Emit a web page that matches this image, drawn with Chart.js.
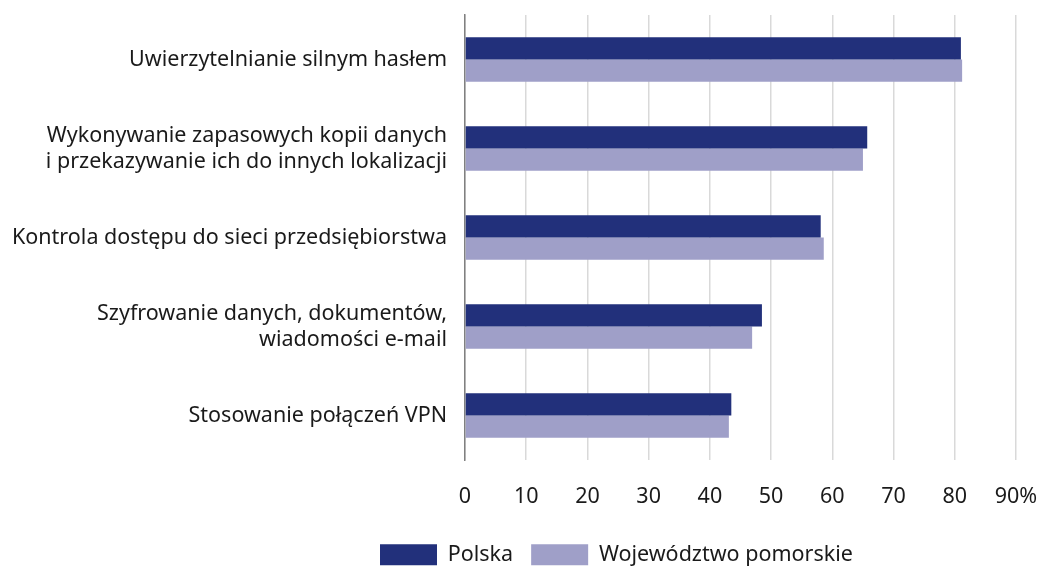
<!DOCTYPE html>
<html>
<head>
<meta charset="utf-8">
<script src="https://cdn.jsdelivr.net/npm/chart.js@4"></script>
<style>
    body { margin: 0; background: #fff; }
    #wrap { width: 1048px; height: 569px; }
</style>
</head>
<body>
<div id="wrap"><canvas id="myChart" width="1048" height="569"></canvas></div>
<script>
const categories = [
    "Uwierzytelnianie silnym hasłem",
    ["Wykonywanie zapasowych kopii danych", "i przekazywanie ich do innych lokalizacji"],
    "Kontrola dostępu do sieci przedsiębiorstwa",
    ["Szyfrowanie danych, dokumentów,", "wiadomości e-mail"],
    "Stosowanie połączeń VPN"
];
const polska = [81.0, 65.7, 58.1, 48.5, 43.5];
const pomorskie = [81.2, 65.0, 58.6, 46.9, 43.1];
const xTicks = [0, 10, 20, 30, 40, 50, 60, 70, 80, 90];

Chart.defaults.font.family = "'Noto Sans', sans-serif";
Chart.defaults.font.size = 21.5;
Chart.defaults.color = "#1a1a1a";

// legenda: stała wysokość i przesunięcie w prawo, jak w oryginale
const legendPlace = {
    id: 'legendPlace',
    beforeLayout(chart) {
        const legend = chart.legend;
        if (legend && !legend._fixed) {
            const fit = legend.fit;
            legend.fit = function () {
                fit.call(this);
                this.height = 43;
            };
            legend._fixed = true;
        }
    },
    beforeDraw(chart) {
        chart.legend.left = 362;
        chart.legend.right = 1048;
    }
};

let ctx = document.getElementById("myChart").getContext("2d");
new Chart(ctx, {
    type: 'bar',
    data: {
        labels: categories,
        datasets: [{
            label: "Polska",
            data: polska,
            backgroundColor: "#22307b",
            categoryPercentage: 0.5,
            barPercentage: 1.0
        }, {
            label: "Województwo pomorskie",
            data: pomorskie,
            backgroundColor: "#9f9fc8",
            categoryPercentage: 0.5,
            barPercentage: 1.0
        }]
    },
    options: {
        indexAxis: 'y',
        responsive: false,
        animation: false,
        layout: { padding: { top: 15, right: 32, left: 0, bottom: 0 } },
        scales: {
            x: {
                min: 0,
                max: 90,
                afterBuildTicks: axis => { axis.ticks = xTicks.map(v => ({ value: v })); },
                afterFit: axis => {
                    axis.height = 66;
                    axis.paddingLeft = 0;
                    axis.paddingRight = 0;
                },
                grid: { color: "#d9d9d9", lineWidth: 1.5, drawTicks: false },
                border: { display: false },
                ticks: {
                    padding: 24,
                    callback: v => v === 90 ? v + "%" : v
                }
            },
            y: {
                afterFit: axis => {
                    axis.width = 465;
                    axis.paddingTop = 0;
                    axis.paddingBottom = 0;
                },
                grid: { display: false, drawTicks: false },
                border: { display: true, color: "#808080", width: 1.5 },
                ticks: { padding: 18 }
            }
        },
        plugins: {
            legend: {
                position: 'bottom',
                align: 'start',
                labels: {
                    boxWidth: 57,
                    boxHeight: 21,
                    padding: 18
                }
            },
            tooltip: { enabled: false }
        }
    },
    plugins: [legendPlace]
});
</script>
</body>
</html>
